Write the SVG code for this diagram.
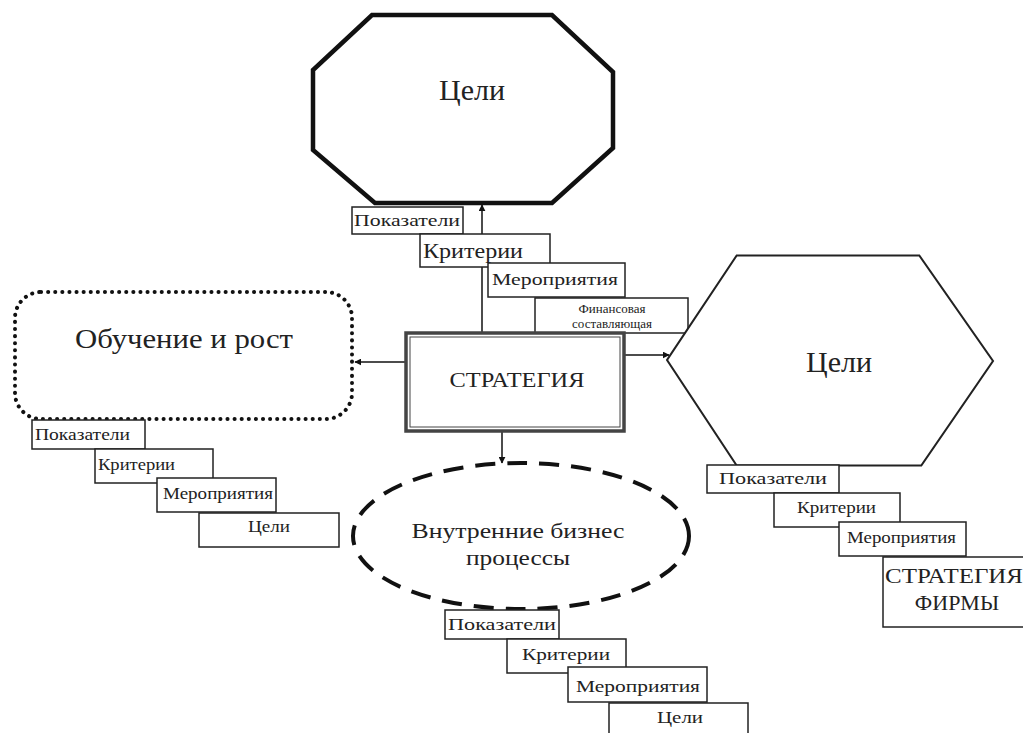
<svg xmlns="http://www.w3.org/2000/svg" width="1023" height="733" viewBox="0 0 1023 733" font-family="'Liberation Serif', 'Times New Roman', 'DejaVu Serif', serif">
<style>
text{font-family:'Liberation Serif','Times New Roman','DejaVu Serif',serif;fill:#222}
.box{fill:#fff;stroke:#222;stroke-width:1.5}
.conn{stroke:#111;stroke-width:1.5;fill:none}
.s16{font-size:16px}
</style>
<defs>
<marker id="ah" viewBox="0 0 10 10" refX="9" refY="5" markerWidth="7" markerHeight="7" orient="auto" markerUnits="userSpaceOnUse">
<path d="M0,0 L10,5 L0,10 z" fill="#111"/>
</marker>
</defs>
<rect width="1023" height="733" fill="#fff"/>
<g id="connectors">
<line class="conn" x1="482" y1="332" x2="482" y2="205" marker-end="url(#ah)"/>
<line class="conn" x1="405" y1="362" x2="355" y2="362" marker-end="url(#ah)"/>
<line class="conn" x1="625" y1="355" x2="669" y2="355" marker-end="url(#ah)"/>
<line class="conn" x1="502" y1="432" x2="502" y2="463" marker-end="url(#ah)"/>
</g>
<g id="goals-top">
<polygon points="372,15 552,15 613,72 613,148 552,203 375,203 313,150 313,70" fill="#fff" stroke="#111" stroke-width="4.5"/>
<text x="472" y="100" font-size="30" text-anchor="middle">Цели</text>
</g>
<g id="top-metrics">
<rect class="box" x="352" y="207" width="111" height="27"/>
<text x="354" y="226" font-size="17" textLength="106" lengthAdjust="spacingAndGlyphs">Показатели</text>
<rect class="box" x="420" y="234" width="130" height="33"/>
<text x="423" y="258" font-size="22" textLength="100" lengthAdjust="spacingAndGlyphs">Критерии</text>
<rect class="box" x="488" y="263" width="137" height="34"/>
<text x="492" y="285" font-size="17" textLength="126" lengthAdjust="spacingAndGlyphs">Мероприятия</text>
<rect class="box" x="535" y="298" width="153" height="35"/>
<text x="612" y="313" font-size="13" text-anchor="middle">Финансовая</text>
<text x="612" y="328" font-size="13" text-anchor="middle">составляющая</text>
</g>
<g id="strategy">
<rect x="406" y="333" width="218" height="98" fill="#fff" stroke="#444" stroke-width="3.5"/>
<rect x="410" y="337" width="210" height="90" fill="none" stroke="#444" stroke-width="1"/>
<text x="517" y="387" font-size="20" text-anchor="middle" textLength="135" lengthAdjust="spacingAndGlyphs">СТРАТЕГИЯ</text>
</g>
<g id="learning">
<rect x="15" y="292" width="337" height="127" rx="26" ry="26" fill="#fff" stroke="#111" stroke-width="4" stroke-dasharray="0.1 7" stroke-linecap="round"/>
<text x="184" y="348" font-size="28" text-anchor="middle" textLength="218" lengthAdjust="spacingAndGlyphs">Обучение и рост</text>
</g>
<g id="left-metrics">
<rect class="box" x="32" y="420" width="113" height="29"/>
<text x="35" y="440" class="s16" textLength="95" lengthAdjust="spacingAndGlyphs">Показатели</text>
<rect class="box" x="95" y="449" width="118" height="34"/>
<text x="98" y="470" class="s16" textLength="77" lengthAdjust="spacingAndGlyphs">Критерии</text>
<rect class="box" x="157" y="478" width="119" height="34"/>
<text x="163" y="499" class="s16" textLength="110" lengthAdjust="spacingAndGlyphs">Мероприятия</text>
<rect class="box" x="199" y="513" width="140" height="34"/>
<text x="248" y="532" class="s16" textLength="42" lengthAdjust="spacingAndGlyphs">Цели</text>
</g>
<g id="goals-right">
<polygon points="670,360 738,258 918,258 990,361 920,463 738,463" fill="#fff" stroke="#222" stroke-width="7"/>
<polygon points="670,360 738,258 918,258 990,361 920,463 738,463" fill="#fff" stroke="#fff" stroke-width="3"/>
<text x="839" y="372" font-size="30" text-anchor="middle">Цели</text>
</g>
<g id="right-metrics">
<rect class="box" x="707" y="465" width="132" height="28"/>
<text x="719" y="484" class="s16" textLength="108" lengthAdjust="spacingAndGlyphs">Показатели</text>
<rect class="box" x="774" y="493" width="126" height="34"/>
<text x="797" y="513" class="s16" textLength="79" lengthAdjust="spacingAndGlyphs">Критерии</text>
<rect class="box" x="839" y="522" width="127" height="34"/>
<text x="847" y="543" class="s16" textLength="109" lengthAdjust="spacingAndGlyphs">Мероприятия</text>
<rect class="box" x="883" y="557" width="150" height="70"/>
<text x="885" y="583" font-size="22" textLength="138" lengthAdjust="spacingAndGlyphs">СТРАТЕГИЯ</text>
<text x="957" y="610" font-size="22" text-anchor="middle">ФИРМЫ</text>
</g>
<g id="business">
<ellipse cx="521" cy="536" rx="168" ry="73" fill="#fff" stroke="#111" stroke-width="4" stroke-dasharray="20 12"/>
<text x="518" y="538" font-size="21" text-anchor="middle" textLength="213" lengthAdjust="spacingAndGlyphs">Внутренние бизнес</text>
<text x="518" y="565" font-size="21" text-anchor="middle" textLength="104" lengthAdjust="spacingAndGlyphs">процессы</text>
</g>
<g id="bottom-metrics">
<rect class="box" x="445" y="610" width="114" height="29"/>
<text x="448" y="630" class="s16" textLength="108" lengthAdjust="spacingAndGlyphs">Показатели</text>
<rect class="box" x="507" y="639" width="119" height="34"/>
<text x="522" y="660" font-size="17" textLength="88" lengthAdjust="spacingAndGlyphs">Критерии</text>
<rect class="box" x="568" y="667" width="139" height="35"/>
<text x="576" y="692" font-size="17" textLength="124" lengthAdjust="spacingAndGlyphs">Мероприятия</text>
<rect class="box" x="609" y="703" width="139" height="40"/>
<text x="657" y="723" class="s16" textLength="46" lengthAdjust="spacingAndGlyphs">Цели</text>
</g>
</svg>
